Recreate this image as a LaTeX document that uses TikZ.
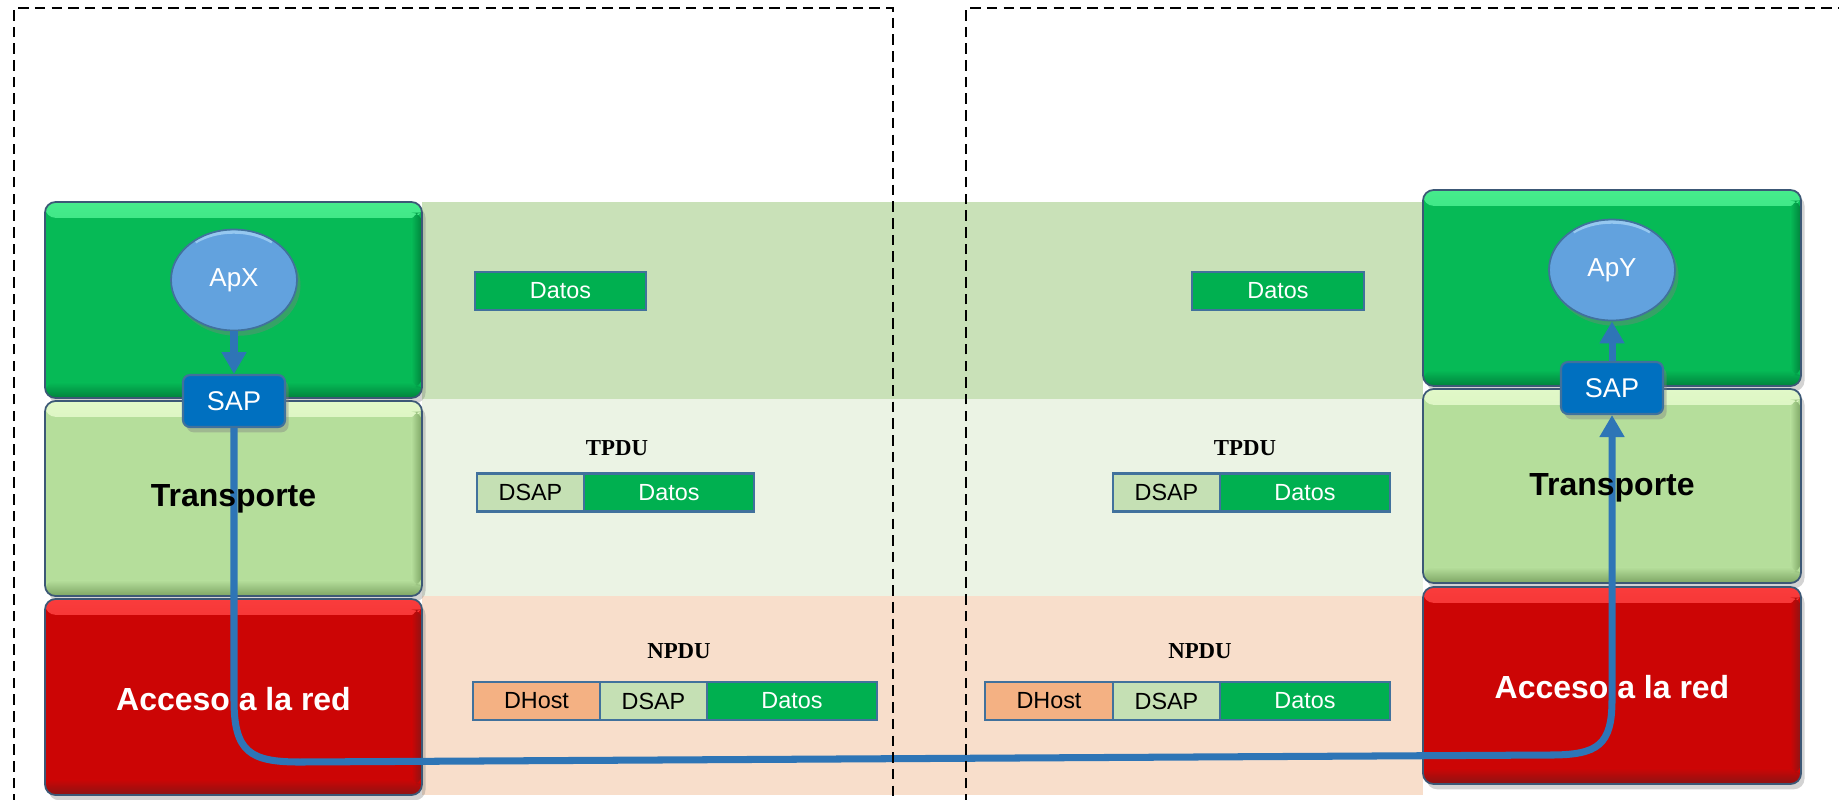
\documentclass[tikz,border=0pt]{standalone}
\usepackage{fontspec}
\setmainfont{Liberation Sans}
\newfontfamily\pduserif{Liberation Serif}
\usetikzlibrary{fit,shadows,arrows.meta,shapes.geometric}

\definecolor{appgreen}{RGB}{6,186,86}
\definecolor{apphi}{RGB}{70,236,140}
\definecolor{applo}{RGB}{0,130,60}
\definecolor{trgreen}{RGB}{181,222,155}
\definecolor{trhi}{RGB}{225,248,200}
\definecolor{trlo}{RGB}{125,165,100}
\definecolor{netred}{RGB}{204,5,5}
\definecolor{nethi}{RGB}{250,60,60}
\definecolor{netlo}{RGB}{140,20,20}
\definecolor{edgeblue}{RGB}{60,88,118}
\definecolor{bandgreen}{RGB}{201,225,184}
\definecolor{bandlight}{RGB}{235,243,228}
\definecolor{bandpeach}{RGB}{248,222,203}
\definecolor{pduedge}{RGB}{65,113,156}
\definecolor{pdugreen}{RGB}{0,176,80}
\definecolor{pdulight}{RGB}{197,224,180}
\definecolor{pduorange}{RGB}{244,177,131}
\definecolor{sapblue}{RGB}{0,112,192}
\definecolor{apblue}{RGB}{98,162,222}
\definecolor{aphi}{RGB}{150,200,240}
\definecolor{flowblue}{RGB}{46,117,182}

\newcommand\pxfont[1]{\fontsize{#1}{#1}\selectfont}

\begin{document}
\begin{tikzpicture}[x=0.02cm,y=-0.02cm,
  layer/.style n args={4}{fit={#1}, inner sep=0pt, rounded corners=6pt,
    fill=#2, draw=edgeblue, line width=1pt,
    drop shadow={opacity=0.35, shadow xshift=2pt, shadow yshift=-3pt},
    path picture={
      \shade[top color=#3, bottom color=#2]
        (path picture bounding box.north west)
        rectangle ([yshift=-9pt]path picture bounding box.north east);
      \shade[top color=#2, bottom color=#4]
        ([yshift=9pt]path picture bounding box.south west)
        rectangle (path picture bounding box.south east);
      \shade[left color=#2, right color=#4]
        ([xshift=-6pt,yshift=-6pt]path picture bounding box.north east)
        rectangle ([yshift=6pt]path picture bounding box.south east);
    }},
  pdu/.style 2 args={rectangle, inner sep=0pt, minimum width=#2, minimum height=0.76cm,
    fill=#1, draw=pduedge, line width=1.5pt, font=\pxfont{13.3pt}},
  pdulabel/.style={font=\pduserif\bfseries\pxfont{13pt}},
  layertext/.style={font=\bfseries\pxfont{18.2pt}},
  apnode/.style={ellipse, minimum width=2.52cm, minimum height=2.02cm, inner sep=0pt,
    fill=apblue, draw=pduedge, line width=1pt,
    drop shadow={opacity=0.4, shadow xshift=2pt, shadow yshift=-3pt},
    path picture={
      \draw[aphi, line width=2pt]
        ([xshift=-22pt,yshift=-7pt]path picture bounding box.north)
        arc[start angle=130, end angle=50, x radius=34pt, y radius=24pt];
    }},
  sapnode/.style={rectangle, rounded corners=4pt, minimum width=2.04cm, minimum height=1.04cm,
    inner sep=0pt, fill=sapblue, draw=pduedge, line width=1.2pt, text=white,
    font=\pxfont{15.4pt},
    drop shadow={opacity=0.4, shadow xshift=2pt, shadow yshift=-3pt}},
  flow/.style={draw=flowblue, line width=4pt},
  flowtip/.style={-{Triangle[width=13.5pt,length=12.5pt]}},
  frame/.style={dash pattern=on 6pt off 3.5pt, line width=1.3pt, black},
]
\useasboundingbox (0,0) rectangle (1839,799);

% PDU bands between the two stacks
\fill[bandgreen] (422,202) rectangle (1423,399);
\fill[bandlight] (422,399) rectangle (1423,596);
\fill[bandpeach] (422,596) rectangle (1423,795);

% PDUs, left host
\node[pdu={pdugreen}{3.42cm}, text=white] (dl1) at (560.5,291) {Datos};
\node[pdulabel] (tpduL) at (617,448) {TPDU};
\node[pdu={pdulight}{2.14cm}] (dl2a) at (530.5,492.5) {DSAP};
\node[pdu={pdugreen}{3.40cm}, text=white] (dl2b) at (669,492.5) {Datos};
\node[pdulabel] (npduL) at (679,651) {NPDU};
\node[pdu={pduorange}{2.54cm}] (dl3a) at (536.5,701) {DHost};
\node[pdu={pdulight}{2.14cm}] (dl3b) at (653.5,701) {DSAP};
\node[pdu={pdugreen}{3.40cm}, text=white] (dl3c) at (792,701) {Datos};

% PDUs, right host
\node[pdu={pdugreen}{3.44cm}, text=white] (dr1) at (1278,291) {Datos};
\node[pdulabel] (tpduR) at (1245,448) {TPDU};
\node[pdu={pdulight}{2.14cm}] (dr2a) at (1166.5,492.5) {DSAP};
\node[pdu={pdugreen}{3.40cm}, text=white] (dr2b) at (1305,492.5) {Datos};
\node[pdulabel] (npduR) at (1200,651) {NPDU};
\node[pdu={pduorange}{2.56cm}] (dr3a) at (1049,701) {DHost};
\node[pdu={pdulight}{2.14cm}] (dr3b) at (1166.5,701) {DSAP};
\node[pdu={pdugreen}{3.40cm}, text=white] (dr3c) at (1305,701) {Datos};

% layer stacks
\node[layer={(45,202)(422,398)}{appgreen}{apphi}{applo}] (appL) {};
\node[layer={(45,401)(422,596)}{trgreen}{trhi}{trlo}] (trL) {};
\node[layer={(45,599)(422,795)}{netred}{nethi}{netlo}] (netL) {};
\node[layer={(1423,190)(1801,386)}{appgreen}{apphi}{applo}] (appR) {};
\node[layer={(1423,389)(1801,583)}{trgreen}{trhi}{trlo}] (trR) {};
\node[layer={(1423,587)(1801,784)}{netred}{nethi}{netlo}] (netR) {};

% applications and service access points
\node[apnode] (apx) at (234,280) {};
\node[apnode] (apy) at (1612,270) {};
\node[sapnode] (sapL) at (234,401) {SAP};
\node[sapnode] (sapR) at (1612,388) {SAP};
\node[text=white, font=\pxfont{14.8pt}] (tApX) at (apx.center) {ApX};
\node[text=white, font=\pxfont{14.8pt}] (tApY) at (apy.center) {ApY};

% data flow
\draw[flow,flowtip] (apx.south) -- (sapL.north);
\draw[flow,flowtip] (sapR.north) -- (apy.south);
\draw[flow,flowtip] (sapL.south) -- (234,700)
  .. controls (234,752) and (250,762) .. (300,762) -- (1550,755)
  .. controls (1598,755) and (1612,745) .. (1612,700) -- (sapR.south);

% layer names
\node[layertext] (tTrL) at (trL.center) {Transporte};
\node[layertext, text=white] (tNetL) at ([yshift=-1pt]netL.center) {Acceso a la red};
\node[layertext] (tTrR) at ([yshift=-1pt]trR.center) {Transporte};
\node[layertext, text=white] (tNetR) at ([yshift=-1pt]netR.center) {Acceso a la red};

% host boundaries
\draw[frame] (14,805) -- (14,8) -- (893,8) -- (893,805);
\draw[frame] (966,805) -- (966,8) -- (1845,8);
\end{tikzpicture}
\end{document}
